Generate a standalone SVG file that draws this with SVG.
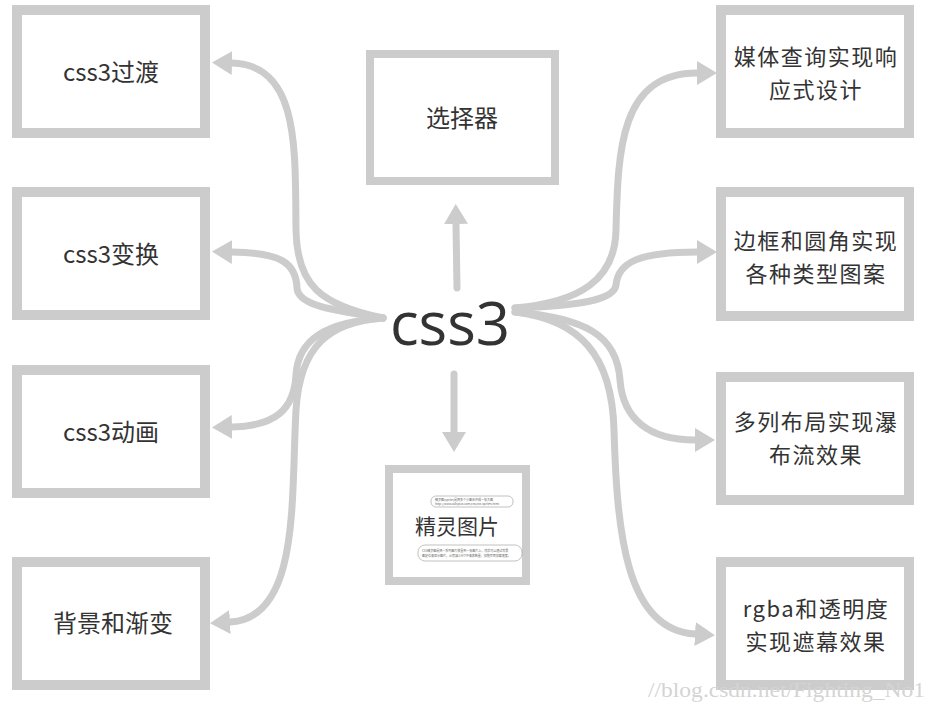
<svg xmlns="http://www.w3.org/2000/svg" width="937" height="709" viewBox="0 0 937 709">
<style>
.box{fill:#fff;stroke:#cccccc;stroke-width:10}
.box8{fill:#fff;stroke:#cccccc;stroke-width:8}
.lbl{font-family:"Noto Sans CJK SC","Open Sans",sans-serif;font-size:24px;fill:#333;text-anchor:middle;dominant-baseline:central}
.lbl2{font-family:"Noto Sans CJK SC","Open Sans",sans-serif;font-size:22px;letter-spacing:1.5px;fill:#333;text-anchor:middle;dominant-baseline:central}
.conn{fill:none;stroke:#cccccc;stroke-width:7;stroke-linecap:round}
.tiny{font-family:"Noto Sans CJK SC",sans-serif;font-size:3px;fill:#666}
.pill{fill:#fff;stroke:#999;stroke-width:0.6}
</style>
<defs>
<marker id="ah" markerUnits="userSpaceOnUse" markerWidth="22" markerHeight="26" refX="0" refY="12" orient="auto">
<path d="M0,0 L20,12 L0,24 z" fill="#cccccc"/>
</marker>
</defs>
<rect width="937" height="709" fill="#fff"/>

<g id="connectors">
<path class="conn" marker-end="url(#ah)" d="M383,318 C320,305 297,285 296,230 C295,150 300,65 232,63"/>
<path class="conn" marker-end="url(#ah)" d="M383,318 C330,310 298,305 297,288 C296,262 280,253 232,252"/>
<path class="conn" marker-end="url(#ah)" d="M383,318 C325,322 298,340 296,375 C294,410 275,426 232,427"/>
<path class="conn" marker-end="url(#ah)" d="M383,318 C330,322 300,345 296,410 C291,500 300,618 230,622"/>
<path class="conn" marker-end="url(#ah)" d="M515,308 C580,302 615,280 616,230 C618,150 620,73 697,73"/>
<path class="conn" marker-end="url(#ah)" d="M515,308 C580,306 614,300 616,285 C618,262 640,252 697,252"/>
<path class="conn" marker-end="url(#ah)" d="M515,312 C585,318 617,335 620,380 C623,420 650,440 695,440"/>
<path class="conn" marker-end="url(#ah)" d="M515,312 C580,320 612,355 614,430 C617,530 625,630 695,634"/>
<path class="conn" marker-end="url(#ah)" d="M457,288 L456,224"/>
<path class="conn" marker-end="url(#ah)" d="M454,374 L454,432"/>
</g>

<g id="center">
<text x="450" y="345" font-family="'Open Sans','Noto Sans',sans-serif" font-size="60" fill="#333" text-anchor="middle">css3</text>
</g>

<g id="n-guodu"><rect class="box" x="17" y="10" width="188" height="123"/><text class="lbl" x="111" y="70">css3过渡</text></g>
<g id="n-bianhuan"><rect class="box" x="17" y="192" width="188" height="123"/><text class="lbl" x="111" y="252">css3变换</text></g>
<g id="n-donghua"><rect class="box" x="17" y="370" width="188" height="123"/><text class="lbl" x="111" y="430">css3动画</text></g>
<g id="n-beijing"><rect class="box" x="17" y="562" width="188" height="123"/><text class="lbl" x="113" y="621">背景和渐变</text></g>

<g id="n-xuanze"><rect class="box8" x="370" y="54" width="185" height="127"/><text class="lbl" x="462" y="116">选择器</text></g>

<g id="n-jingling">
<rect class="box8" x="389" y="469" width="137" height="112"/>
<rect class="pill" x="431" y="496" width="82" height="11" rx="5"/>
<text class="tiny" x="435" y="500.5">精灵图(sprite)是把多个小图合并成一张大图</text>
<text class="tiny" x="435" y="504.5">http://www.w3cplus.com/css/css-sprites.html</text>
<text class="lbl" x="457" y="525" style="font-size:21px">精灵图片</text>
<rect class="pill" x="418" y="545" width="104" height="16" rx="7"/>
<text class="tiny" x="422" y="551.5">CSS精灵图是把一系列图片放置到一张图片上，然后可以通过背景</text>
<text class="tiny" x="422" y="556.5">图定位来显示图片，从而减少HTTP请求数量，加快页面加载速度。</text>
</g>

<g id="n-meiti"><rect class="box" x="721" y="10" width="188" height="123"/><text class="lbl2" x="816" y="55">媒体查询实现响</text><text class="lbl2" x="816" y="88">应式设计</text></g>
<g id="n-biankuang"><rect class="box" x="721" y="192" width="188" height="124"/><text class="lbl2" x="816" y="239">边框和圆角实现</text><text class="lbl2" x="816" y="272">各种类型图案</text></g>
<g id="n-duolie"><rect class="box" x="721" y="377" width="188" height="123"/><text class="lbl2" x="816" y="420">多列布局实现瀑</text><text class="lbl2" x="816" y="453">布流效果</text></g>
<g id="n-rgba"><rect class="box" x="721" y="562" width="188" height="123"/><text class="lbl2" x="816" y="607">rgba和透明度</text><text class="lbl2" x="816" y="640">实现遮幕效果</text></g>

<text x="648" y="697" font-family="'Liberation Serif',serif" font-size="22" fill="#d4d4d4" textLength="277" lengthAdjust="spacingAndGlyphs">//blog.csdn.net/Fighting_No1</text>
</svg>
